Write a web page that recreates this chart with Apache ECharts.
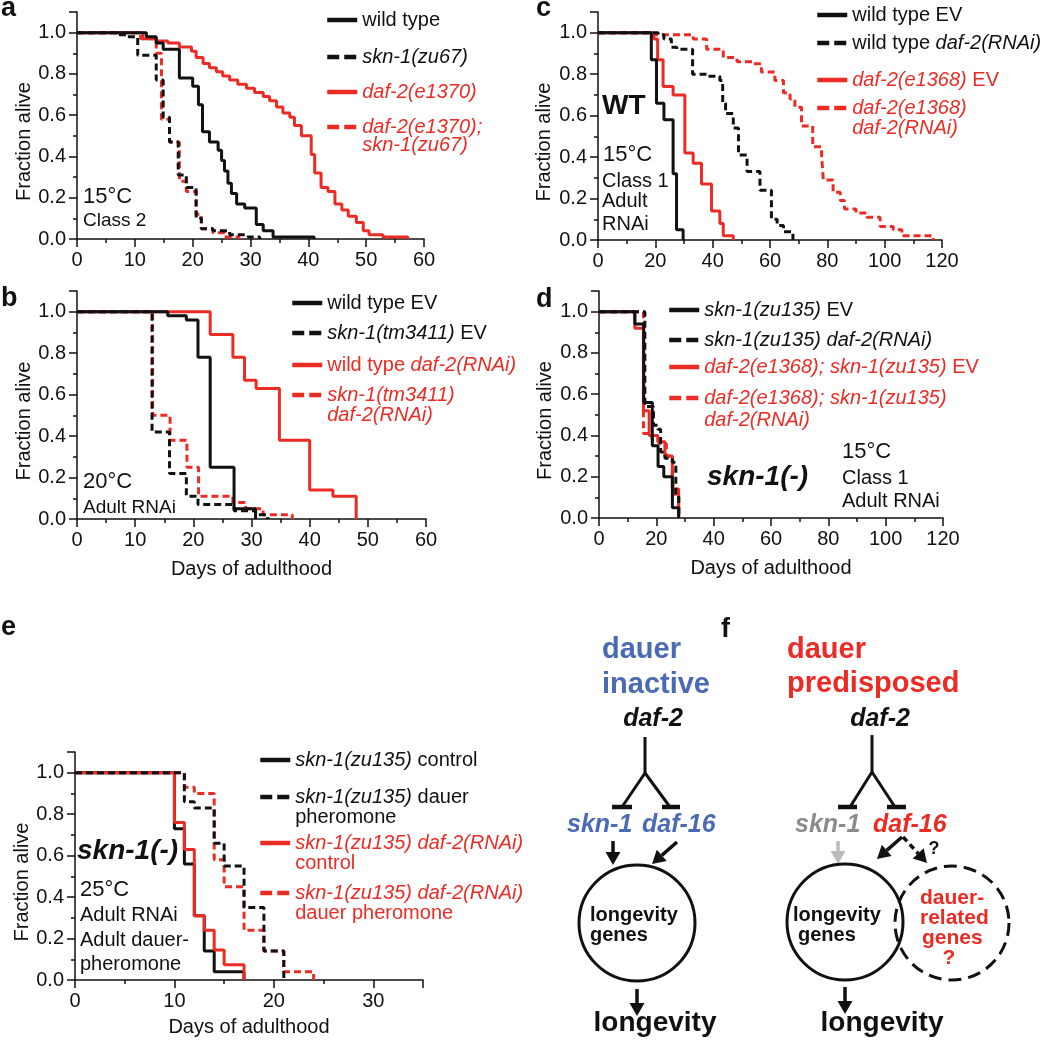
<!DOCTYPE html>
<html><head><meta charset="utf-8">
<script src="https://cdn.jsdelivr.net/npm/echarts@6/dist/echarts.min.js"></script>
<style>html,body{margin:0;padding:0;background:#fff}#c{width:1050px;height:1042px}</style>
</head><body><div id="c"></div><script>
const F = 'Liberation Sans';
const RED = '#ec2c24', BLACK = '#111111', BLUE = '#4a6bb4', GREY = '#8c8c8c', LGREY = '#bcbcbc';

// ---- Panel a (15°C, Class 2) : [day, fraction alive]
const aWildType = [[0,1],[12,0.98],[13.7,0.95],[14.9,0.92],[17.7,0.78],[20,0.74],[21,0.65],[21.7,0.52],[22.9,0.47],[24.4,0.43],[25,0.38],[25.5,0.33],[26.1,0.27],[26.7,0.22],[27.6,0.17],[29,0.15],[31,0.07],[32.2,0.04],[33.9,0.01],[41,0]];
const aSkn1 = [[0,1],[7,0.99],[8.5,0.98],[10.5,0.89],[13.7,0.77],[14.9,0.59],[16,0.47],[17.5,0.31],[18.9,0.25],[20.6,0.10],[21.5,0.05],[23.5,0.04],[26.4,0.02],[29.6,0.01],[31.6,0]];
const aDaf2 = [[0,1],[11.4,0.97],[13.7,0.96],[15.7,0.95],[17.7,0.93],[19.8,0.91],[20.6,0.88],[21.8,0.85],[22.9,0.83],[24.1,0.81],[25.2,0.79],[26.4,0.77],[27.8,0.75],[29.3,0.73],[30.7,0.71],[32.2,0.69],[33.3,0.67],[34.5,0.64],[35.6,0.61],[36.8,0.59],[37.6,0.55],[38.8,0.50],[40.5,0.41],[41.1,0.32],[42.2,0.25],[43.4,0.23],[44.6,0.17],[45.8,0.14],[46.9,0.11],[48.3,0.08],[49.5,0.04],[50.5,0.02],[52.9,0.01],[57.2,0]];
const aDaf2Skn1 = [[0,1],[11,0.97],[13.7,0.90],[14.6,0.58],[16,0.47],[17.7,0.28],[18.9,0.23],[20.6,0.12],[21.5,0.05],[23.5,0.03],[25.5,0.01],[28,0]];

// ---- Panel b (20°C, Adult RNAi)
const bWildTypeEV = [[0,1],[15.6,0.98],[18.8,0.96],[20.8,0.78],[22.9,0.25],[27,0.05],[30.7,0]];
const bSkn1EV = [[0,1],[12.9,0.42],[15.9,0.22],[18.8,0.11],[20.8,0.07],[27,0.04],[30.7,0.02],[32.8,0]];
const bWildTypeDaf2 = [[0,1],[22.9,0.89],[26.8,0.78],[28.8,0.67],[30.8,0.63],[34.8,0.38],[40,0.14],[44,0.11],[48,0]];
const bSkn1Daf2 = [[0,1],[13,0.50],[16,0.38],[18.9,0.25],[20.9,0.11],[26.8,0.08],[29,0.05],[32,0.02],[37,0]];

// ---- Panel c (WT, 15°C, Class 1, Adult RNAi)
const cWildTypeEV = [[0,1],[18.6,0.87],[20.4,0.66],[23,0.58],[26.2,0.32],[27.4,0.05],[29.7,0]];
const cWildTypeDaf2 = [[0,1],[21,0.99],[23,0.97],[25.6,0.93],[27.5,0.92],[33,0.80],[38.5,0.79],[42.5,0.77],[43.5,0.66],[44.5,0.61],[47.2,0.54],[49,0.41],[52,0.33],[56.5,0.24],[60.5,0.10],[62.5,0.07],[64.7,0.04],[68,0]];
const cDaf2EV = [[0,1],[19.5,0.97],[20.8,0.87],[22.7,0.74],[26.2,0.70],[30.3,0.42],[33.2,0.37],[36.1,0.27],[39.6,0.14],[42.5,0.08],[43.7,0.02],[47.2,0]];
const cDaf2Daf2 = [[0,1],[19,0.99],[33.2,0.97],[37.9,0.92],[43.7,0.88],[48.5,0.86],[54.2,0.85],[57,0.81],[61.7,0.77],[64.7,0.71],[67,0.68],[68.7,0.64],[71,0.55],[74.9,0.45],[78,0.41],[78.6,0.29],[82,0.23],[84.5,0.19],[86,0.15],[90,0.13],[93.8,0.11],[98.4,0.065],[103,0.05],[106,0.02],[117,0]];

// ---- Panel d (skn-1(-), 15°C, Class 1, Adult RNAi)
const dSkn1EV = [[0,1],[12.5,0.94],[15.6,0.56],[18.6,0.35],[20.6,0.25],[22.6,0.20],[25.6,0.05],[27.8,0]];
const dSkn1Daf2 = [[0,1],[16,0.54],[19,0.45],[20.5,0.43],[21.5,0.32],[23,0.29],[25.6,0.27],[26.8,0.12],[27.8,0]];
const dDaf2Skn1EV = [[0,1],[12.5,0.92],[15.5,0.52],[17.5,0.40],[20.5,0.37],[23,0.30],[25.6,0.14],[27.8,0]];
const dDaf2Skn1Daf2 = [[0,1],[15.5,0.41],[18.5,0.38],[21,0.36],[23.5,0.30],[25.6,0.16],[26.5,0.10],[27.8,0]];

// ---- Panel e (skn-1(-), 25°C)
const eControl = [[0,1],[10,0.73],[11,0.56],[12,0.31],[13,0.14],[14,0.04],[17,0]];
const eDauer = [[0,1],[11,0.86],[12,0.83],[14,0.66],[15,0.55],[17,0.35],[19,0.14],[21,0]];
const eDaf2Control = [[0,1],[10,0.76],[11,0.63],[12,0.31],[13,0.24],[14,0.145],[15,0.073],[17,0]];
const eDaf2Dauer = [[0,1],[11,0.93],[12,0.90],[14,0.58],[15,0.45],[17,0.24],[19,0.14],[21,0.04],[24,0]];

// ---- legend labels
const LABELS = {
  a1: 'wild type', a2: '{i|skn-1(zu67)}', a3: '{i|daf-2(e1370)}', a4: '{i|daf-2(e1370);}\n{i|skn-1(zu67)}',
  b1: 'wild type EV', b2: '{i|skn-1(tm3411)} EV', b3: 'wild type {i|daf-2(RNAi)}', b4: '{i|skn-1(tm3411)}\n{i|daf-2(RNAi)}',
  c1: 'wild type EV', c2: 'wild type {i|daf-2(RNAi)}', c3: '{i|daf-2(e1368)} EV', c4: '{i|daf-2(e1368)}\n{i|daf-2(RNAi)}',
  d1: '{i|skn-1(zu135)} EV', d2: '{i|skn-1(zu135) daf-2(RNAi)}', d3: '{i|daf-2(e1368); skn-1(zu135)} EV', d4: '{i|daf-2(e1368); skn-1(zu135)}\n{i|daf-2(RNAi)}',
  e1: '{i|skn-1(zu135)} control', e2: '{i|skn-1(zu135)} dauer\npheromone', e3: '{i|skn-1(zu135) daf-2(RNAi)}\ncontrol', e4: '{i|skn-1(zu135) daf-2(RNAi)}\ndauer pheromone'
};

const DASH = [7,4];
function ser(id, gi, data, color, dashed, z) {
  return { type:'line', name:id, xAxisIndex:gi, yAxisIndex:gi, data:data, step:'end',
    symbol:'none', showSymbol:false, silent:true, z:z||2,
    lineStyle:{ color:color, width:3, type: dashed ? DASH : 'solid' }, itemStyle:{ color:color } };
}
function leg(id, left, cy, color, dashed, lines, lh) {
  lh = lh || 20;
  const two = lines === 2;
  return {
    left: left, top: two ? cy - 1.5*lh : cy - lh/2, orient:'vertical', padding:0, itemGap:0,
    itemWidth:30, itemHeight:2, selectedMode:false,
    data:[{ name:id, lineStyle:{ width:4.5, color:color, type: dashed ? [12,5] : 'solid' },
            itemStyle:{ color:'rgba(0,0,0,0)', borderWidth:0, opacity:0 },
            textStyle:{ color:color, padding: two ? [lh,0,0,0] : 0 } }],
    formatter: function(n){ return LABELS[n]; },
    textStyle:{ fontFamily:F, fontSize:20, lineHeight:lh, color:color,
      rich:{ i:{ fontFamily:F, fontSize:20, fontStyle:'italic', lineHeight:lh } } }
  };
}
function xAx(gi, max, interval, name, gap) {
  return { gridIndex:gi, type:'value', min:0, max:max, interval:interval,
    name:name, nameLocation:'middle', nameGap:gap,
    nameTextStyle:{ fontFamily:F, fontSize:20, color:BLACK },
    axisLine:{ show:true, onZero:false, lineStyle:{ color:BLACK, width:1.5 } },
    axisTick:{ show:true, length:8, lineStyle:{ color:BLACK, width:1.5 } },
    minorTick:{ show:true, splitNumber:2, length:4, lineStyle:{ color:BLACK, width:1.5 } },
    axisLabel:{ fontFamily:F, fontSize:20, color:BLACK, margin:11,
      formatter: function(v){ return (v % interval === 0) ? String(v) : ''; } },
    splitLine:{ show:false }, minorSplitLine:{ show:false } };
}
function yAx(gi, gap) {
  return { gridIndex:gi, type:'value', min:0, max:1.1, interval:0.2,
    name:'Fraction alive', nameLocation:'middle', nameGap:gap,
    nameTextStyle:{ fontFamily:F, fontSize:20, color:BLACK, padding:[0,32,0,0] },
    axisLine:{ show:true, onZero:false, lineStyle:{ color:BLACK, width:1.5 } },
    axisTick:{ show:true, length:8, lineStyle:{ color:BLACK, width:1.5 } },
    minorTick:{ show:true, splitNumber:2, length:4, lineStyle:{ color:BLACK, width:1.5 } },
    axisLabel:{ fontFamily:F, fontSize:20, color:BLACK, margin:11,
      formatter: function(v){ return v > 1.05 ? '' : v.toFixed(1); } },
    splitLine:{ show:false }, minorSplitLine:{ show:false } };
}

function txt(x, y, text, size, opts) {
  opts = opts || {};
  return { type:'text', x:x, y:y, silent:true, style:{ text:text, fontFamily:F, fontSize:size,
    fontWeight: opts.bold ? 'bold' : 'normal', fontStyle: opts.italic ? 'italic' : 'normal',
    fill: opts.color || BLACK, align: opts.align || 'left', verticalAlign:'middle' } };
}
function seg(x1,y1,x2,y2,color,w,dash){
  return { type:'line', silent:true, shape:{x1:x1,y1:y1,x2:x2,y2:y2},
    style:{ stroke:color, lineWidth:w||3, lineDash: dash || null, lineCap:'butt' } };
}
function arrow(x1,y1,x2,y2,color,dashed){
  const a = Math.atan2(y2-y1, x2-x1), L = 13, W = 7.5;
  const bx = x2 - L*Math.cos(a), by = y2 - L*Math.sin(a);
  const px = -Math.sin(a), py = Math.cos(a);
  return [ seg(x1,y1,bx,by,color,3.5, dashed ? [6,4] : null),
    { type:'polygon', silent:true, shape:{ points:[[x2,y2],[bx+px*W,by+py*W],[bx-px*W,by-py*W]] }, style:{ fill:color } } ];
}

const graphics = [
  // panel letters
  txt(1, 9, 'a', 27, {bold:true}), txt(1, 299, 'b', 27, {bold:true}),
  txt(536, 9, 'c', 27, {bold:true}), txt(536, 300, 'd', 27, {bold:true}),
  txt(1, 628, 'e', 27, {bold:true}), txt(721, 630, 'f', 27, {bold:true}),
  // panel annotations
  txt(83, 197, '15°C', 22), txt(83, 221, 'Class 2', 19),
  txt(83, 482, '20°C', 22), txt(83, 508, 'Adult RNAi', 19),
  txt(602, 106, 'WT', 28, {bold:true}), txt(603, 155, '15°C', 22), txt(602, 181, 'Class 1', 20),
  txt(602, 201, 'Adult', 20), txt(602, 224, 'RNAi', 20),
  txt(707, 477, 'skn-1(-)', 28, {bold:true, italic:true}), txt(842, 452, '15°C', 22),
  txt(842, 478, 'Class 1', 20), txt(842, 501, 'Adult RNAi', 20),
  txt(77, 851, 'skn-1(-)', 28, {bold:true, italic:true}), txt(80, 890, '25°C', 22),
  txt(80, 915, 'Adult RNAi', 20), txt(80, 940, 'Adult dauer-', 20), txt(80, 964, 'pheromone', 20),
  // panel f — left
  txt(602, 650, 'dauer', 29, {bold:true, color:BLUE}), txt(602, 685, 'inactive', 29, {bold:true, color:BLUE}),
  txt(653, 719, 'daf-2', 25, {bold:true, italic:true, align:'center'}),
  seg(645,737,645,773,BLACK,3), seg(645,773,622,807,BLACK,3), seg(645,773,670,807,BLACK,3),
  seg(612,807,632,807,BLACK,4.5), seg(662,807,680,807,BLACK,4.5),
  txt(567, 825, 'skn-1', 25, {bold:true, italic:true, color:BLUE}),
  txt(642, 825, 'daf-16', 25, {bold:true, italic:true, color:BLUE}),
  ...arrow(613,841,613,865,BLACK), ...arrow(677,842,652,864,BLACK),
  { type:'circle', silent:true, shape:{cx:637, cy:923, r:58}, style:{ fill:null, stroke:BLACK, lineWidth:3 } },
  txt(590, 915, 'longevity', 20, {bold:true}), txt(590, 935, 'genes', 20, {bold:true}),
  ...arrow(637,989,637,1016,BLACK),
  txt(655, 1023, 'longevity', 28, {bold:true, align:'center'}),
  // panel f — right
  txt(787, 650, 'dauer', 29, {bold:true, color:RED}), txt(787, 684, 'predisposed', 29, {bold:true, color:RED}),
  txt(880, 719, 'daf-2', 25, {bold:true, italic:true, align:'center'}),
  seg(872,735,872,772,BLACK,3), seg(872,772,850,807,BLACK,3), seg(872,772,895,807,BLACK,3),
  seg(838,807,857,807,BLACK,4.5), seg(887,807,906,807,BLACK,4.5),
  txt(795, 825, 'skn-1', 25, {bold:true, italic:true, color:GREY}),
  txt(873, 825, 'daf-16', 25, {bold:true, italic:true, color:RED}),
  ...arrow(838,841,838,864,LGREY), ...arrow(902,837,877,859,BLACK), ...arrow(903,837,927,863,BLACK,true),
  txt(934, 849, '?', 18, {bold:true, align:'center'}),
  { type:'circle', silent:true, shape:{cx:845, cy:922, r:58}, style:{ fill:null, stroke:BLACK, lineWidth:3 } },
  { type:'circle', silent:true, shape:{cx:952, cy:923, r:57}, style:{ fill:null, stroke:BLACK, lineWidth:3, lineDash:[13,7] } },
  txt(793, 915, 'longevity', 20, {bold:true}), txt(798, 935, 'genes', 20, {bold:true}),
  txt(920, 898, 'dauer-', 21, {bold:true, color:RED}), txt(920, 918, 'related', 21, {bold:true, color:RED}),
  txt(922, 938, 'genes', 21, {bold:true, color:RED}), txt(949, 958, '?', 21, {bold:true, color:RED, align:'center'}),
  ...arrow(845,987,845,1014,BLACK),
  txt(882, 1023, 'longevity', 28, {bold:true, align:'center'})
];

const option = {
  animation:false, backgroundColor:'#ffffff',
  textStyle:{ fontFamily:F },
  grid:[
    { left:77, top:12, width:347, height:227 },
    { left:77, top:291, width:349, height:228 },
    { left:598, top:12, width:344, height:228 },
    { left:599, top:291, width:344, height:227 },
    { left:75, top:752, width:348, height:228 }
  ],
  xAxis:[ xAx(0,60,10,'',0), xAx(1,60,10,'Days of adulthood',40), xAx(2,120,20,'',0),
          xAx(3,120,20,'Days of adulthood',40), xAx(4,35,10,'Days of adulthood',37) ],
  yAxis:[ yAx(0,42), yAx(1,42), yAx(2,44), yAx(3,44), yAx(4,43) ],
  legend:[
    leg('a1',325,20,BLACK,false,1), leg('a2',325,57,BLACK,true,1), leg('a3',325,92,RED,false,1), leg('a4',325,127,RED,true,2,18),
    leg('b1',290,303,BLACK,false,1), leg('b2',290,333,BLACK,true,1), leg('b3',290,365,RED,false,1), leg('b4',290,395,RED,true,2,20),
    leg('c1',815,15,BLACK,false,1), leg('c2',815,43,BLACK,true,1), leg('c3',815,80,RED,false,1), leg('c4',815,108,RED,true,2,20),
    leg('d1',667,310,BLACK,false,1), leg('d2',667,340,BLACK,true,1), leg('d3',667,367,RED,false,1), leg('d4',667,398,RED,true,2,22),
    leg('e1',258,760,BLACK,false,1), leg('e2',258,797,BLACK,true,2,20), leg('e3',258,843,RED,false,2,20), leg('e4',258,893,RED,true,2,20)
  ],
  series:[
    ser('a3',0,aDaf2,RED,false,1), ser('a4',0,aDaf2Skn1,RED,true,1), ser('a1',0,aWildType,BLACK,false,2), ser('a2',0,aSkn1,BLACK,true,2),
    ser('b3',1,bWildTypeDaf2,RED,false,1), ser('b4',1,bSkn1Daf2,RED,true,1), ser('b1',1,bWildTypeEV,BLACK,false,2), ser('b2',1,bSkn1EV,BLACK,true,2),
    ser('c3',2,cDaf2EV,RED,false,1), ser('c4',2,cDaf2Daf2,RED,true,1), ser('c1',2,cWildTypeEV,BLACK,false,2), ser('c2',2,cWildTypeDaf2,BLACK,true,2),
    ser('d3',3,dDaf2Skn1EV,RED,false,1), ser('d4',3,dDaf2Skn1Daf2,RED,true,1), ser('d1',3,dSkn1EV,BLACK,false,2), ser('d2',3,dSkn1Daf2,BLACK,true,2),
    ser('e3',4,eDaf2Control,RED,false,2), ser('e4',4,eDaf2Dauer,RED,true,1), ser('e1',4,eControl,BLACK,false,1), ser('e2',4,eDauer,BLACK,true,2)
  ],
  graphic: graphics
};
const chart = echarts.init(document.getElementById('c'), null, { renderer:'canvas' });
chart.setOption(option);
</script></body></html>
